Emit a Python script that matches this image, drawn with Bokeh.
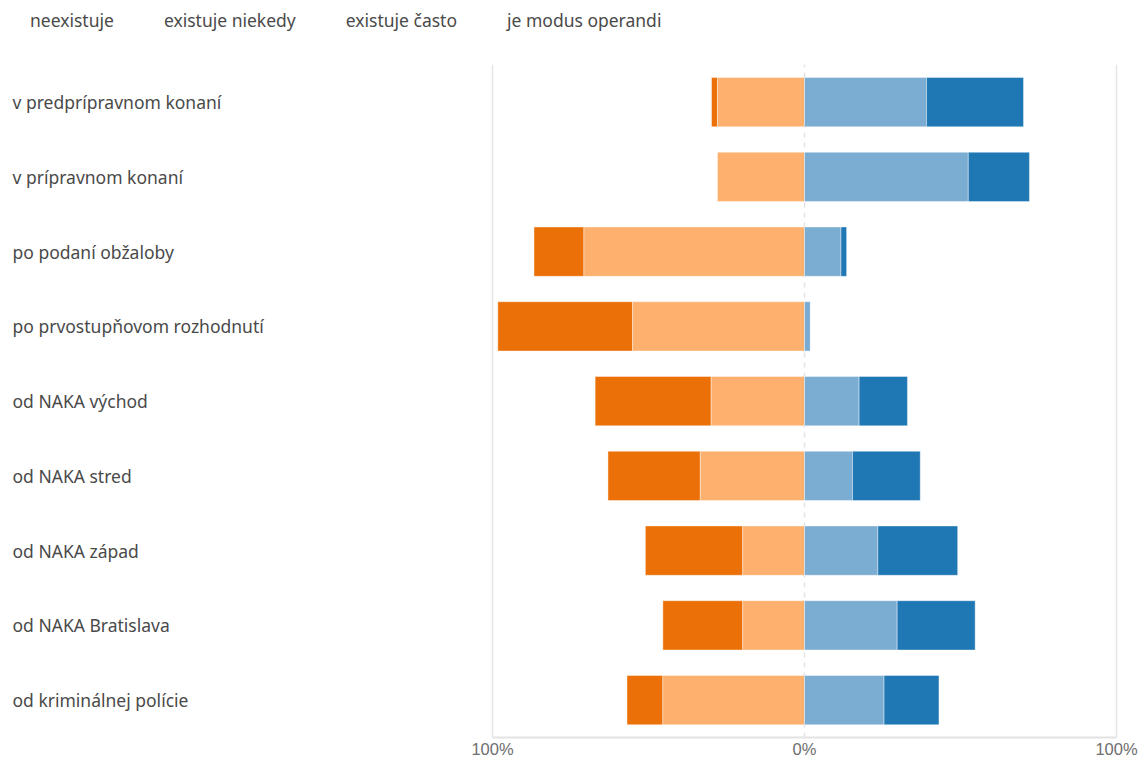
from bokeh.plotting import figure
from bokeh.models import (ColumnDataSource, Range1d, FixedTicker,
                          LabelSet, Legend, LegendItem)
from bokeh.core.properties import value
from bokeh.embed import file_html
from bokeh.resources import INLINE

categories = ["v predprípravnom konaní", "v prípravnom konaní", "po podaní obžaloby",
              "po prvostupňovom rozhodnutí", "od NAKA východ", "od NAKA stred",
              "od NAKA západ", "od NAKA Bratislava", "od kriminálnej polície"]
series_names = ["neexistuje", "existuje niekedy", "existuje často", "je modus operandi"]
neexistuje = [1.9, 0.0, 16.0, 43.2, 37.2, 29.6, 31.2, 25.6, 11.5]
niekedy = [27.9, 27.9, 70.7, 55.1, 29.9, 33.4, 19.8, 19.8, 45.4]
casto = [39.1, 52.5, 11.7, 1.9, 17.5, 15.4, 23.5, 29.7, 25.5]
modus = [31.1, 19.6, 1.8, 0.0, 15.5, 21.7, 25.6, 25.0, 17.6]
tick_values = [-100, 0, 100]
tick_labels = ["100%", "0%", "100%"]

colors = ["#ec7008", "#feb16e", "#7bacd2", "#1f77b4"]
FONT = "Noto Sans"

n = len(categories)
ypos = [n - 1 - i for i in range(n)]   # first category on top

src = ColumnDataSource(dict(
    cat=categories,
    y=ypos,
    ne_l=[-(a + b) for a, b in zip(neexistuje, niekedy)],
    ne_r=[-b for b in niekedy],
    ni_l=[-b for b in niekedy],
    zero=[0.0] * n,
    ca_r=list(casto),
    mo_r=[c + m for c, m in zip(casto, modus)],
))

# space above the rows reserved for the legend (in row units)
top_extra = 0.86
p = figure(width=1145, height=760,
           x_range=Range1d(-257.7, 109.3),
           y_range=Range1d(-0.5, n - 0.5 + top_extra),
           output_backend="svg", toolbar_location=None,
           min_border_left=0, min_border_right=0, min_border_top=0, min_border_bottom=0,
           y_axis_location=None, outline_line_color=None)

# grid lines limited to the rows area: solid at the ends, dashed at 0
edge_ticks = [t for t in tick_values if t != 0]
gsrc = ColumnDataSource(dict(x=edge_ticks, y0=[-0.5] * len(edge_ticks),
                             y1=[n - 0.5] * len(edge_ticks)))
p.segment(x0="x", y0="y0", x1="x", y1="y1", source=gsrc, line_color="#e6e6e6",
          line_width=1.5, level="underlay")
zsrc = ColumnDataSource(dict(x=[0], y0=[-0.5], y1=[n - 0.5]))
p.segment(x0="x", y0="y0", x1="x", y1="y1", source=zsrc, line_color="#e3e3e3",
          line_width=1.5, line_dash="5 5", level="underlay")
p.xgrid.grid_line_color = None
p.ygrid.grid_line_color = None

bh = 0.66
p.hbar(y="y", left="ne_l", right="ne_r", height=bh, source=src,
       fill_color=colors[0], line_color="white", line_alpha=0.4, line_width=1)
p.hbar(y="y", left="ni_l", right="zero", height=bh, source=src,
       fill_color=colors[1], line_color="white", line_alpha=0.4, line_width=1)
p.hbar(y="y", left="zero", right="ca_r", height=bh, source=src,
       fill_color=colors[2], line_color="white", line_alpha=0.4, line_width=1)
p.hbar(y="y", left="ca_r", right="mo_r", height=bh, source=src,
       fill_color=colors[3], line_color="white", line_alpha=0.4, line_width=1)

# axis
ax = p.xaxis[0]
ax.ticker = FixedTicker(ticks=tick_values)
ax.major_label_overrides = {v: l for v, l in zip(tick_values, tick_labels)}
ax.bounds = (-100, 100)
ax.axis_line_color = "#e3e3e3"
ax.axis_line_width = 2
ax.major_tick_line_color = None
ax.major_tick_out = 0
ax.major_tick_in = 0
ax.minor_tick_line_color = None
ax.minor_tick_out = 0
ax.major_label_standoff = 2
ax.major_label_text_font = "Liberation Sans"
ax.major_label_text_font_size = "16.5px"
ax.major_label_text_color = "#6e6e6e"

# category labels
labels = LabelSet(x=12, x_units="screen", y="y", text="cat", source=src,
                  text_align="left", text_baseline="middle",
                  text_font=value(FONT), text_font_size="17.5px", text_color="#4a4a4a")
p.add_layout(labels)

# text-only legend (invisible swatches)
dummy = ColumnDataSource(dict(x=[], y=[]))
items = []
for name in series_names:
    r = p.rect(x="x", y="y", width=1, height=1, source=dummy,
               fill_alpha=0, line_alpha=0)
    items.append(LegendItem(label=name, renderers=[r]))
legend = Legend(items=items, orientation="horizontal", location="top_left",
                border_line_color=None, background_fill_alpha=0,
                label_text_font=FONT, label_text_font_size="17.5px",
                label_text_color="#4a4a4a", glyph_width=12, glyph_height=16,
                label_standoff=10, spacing=28, padding=9, margin=8)
p.add_layout(legend)

open("out.html", "w").write(file_html(p, INLINE))
